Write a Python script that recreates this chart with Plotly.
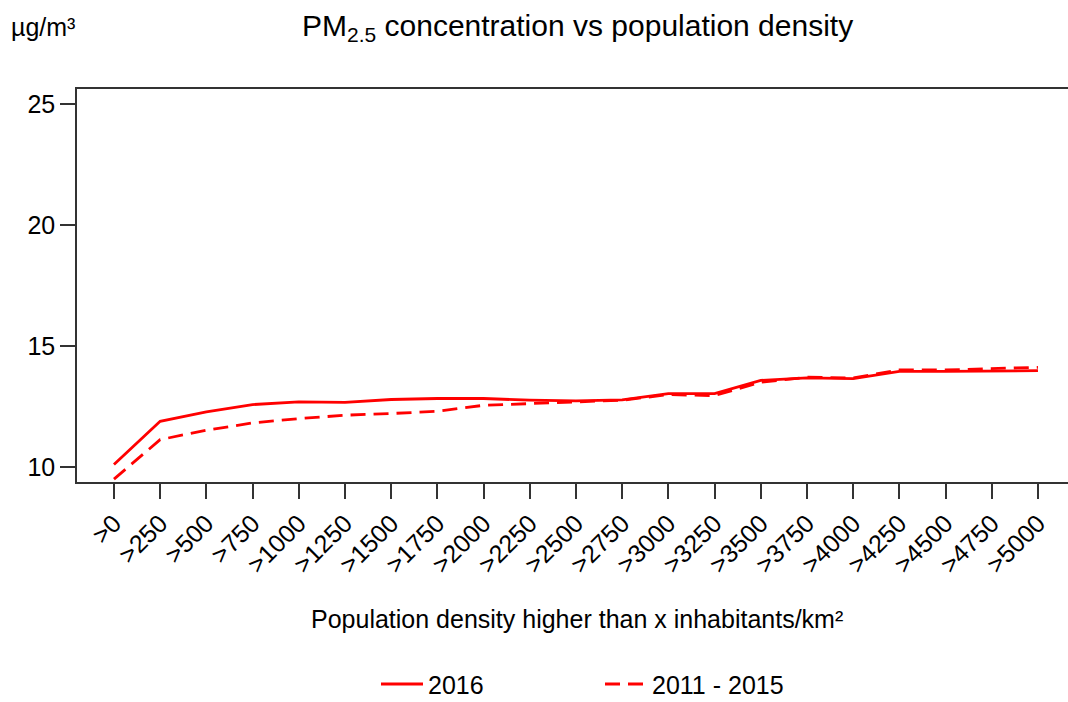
import plotly.graph_objects as go

categories = [">0", ">250", ">500", ">750", ">1000", ">1250", ">1500", ">1750", ">2000",
              ">2250", ">2500", ">2750", ">3000", ">3250", ">3500", ">3750", ">4000",
              ">4250", ">4500", ">4750", ">5000"]
pm_2016 = [10.10, 11.89, 12.28, 12.58, 12.69, 12.67, 12.79, 12.83, 12.83, 12.76, 12.73,
           12.77, 13.03, 13.03, 13.58, 13.68, 13.65, 13.95, 13.95, 13.97, 13.98]
pm_2011_2015 = [9.50, 11.13, 11.52, 11.82, 12.00, 12.14, 12.21, 12.30, 12.55, 12.62, 12.67,
                12.76, 12.99, 12.95, 13.50, 13.71, 13.68, 14.01, 14.01, 14.05, 14.12]
y_ticks = [10, 15, 20, 25]

idx = list(range(len(categories)))
RED = "#FF0000"
FONT = "Liberation Sans, Arial, sans-serif"
TXT = 25

PL, PT, PB = 77, 89, 482.5
PW, PH = 1068 - PL, PB - PT


def py(pix):
    return (PB - pix) / PH


def px(pix):
    return (pix - PL) / PW


fig = go.Figure()
fig.add_trace(go.Scatter(x=idx, y=pm_2016, mode="lines", name="2016",
                         line=dict(color=RED, width=2.8)))
fig.add_trace(go.Scatter(x=idx, y=pm_2011_2015, mode="lines", name="2011 - 2015",
                         line=dict(color=RED, width=2.8, dash="15px,8px")))

fig.update_layout(
    width=1068, height=702,
    margin=dict(l=PL, r=0, t=PT, b=702 - PB, autoexpand=False),
    paper_bgcolor="white", plot_bgcolor="white",
    font=dict(family=FONT, color="black", size=TXT),
    showlegend=True,
    legend=dict(orientation="h", x=px(600), xanchor="center", y=py(685), yanchor="middle",
                font=dict(size=TXT, family=FONT), entrywidth=167, itemwidth=42,
                traceorder="normal"),
)
fig.update_xaxes(
    range=[-0.80, 20.65], tickmode="array", tickvals=idx, ticktext=categories,
    tickangle=-45, ticks="outside", ticklen=15, tickwidth=1.5, tickcolor="#333",
    showline=True, linecolor="#333", linewidth=1.5, mirror=True, automargin=False,
    showgrid=False, zeroline=False, tickfont=dict(size=TXT, family=FONT, color="black"),
)
fig.update_yaxes(
    range=[9.38, 25.62], tickmode="array", tickvals=y_ticks,
    ticks="outside", ticklen=15, tickwidth=1.5, tickcolor="#333",
    showline=True, linecolor="#333", linewidth=1.5, mirror=False, automargin=False,
    showgrid=False, zeroline=False, tickfont=dict(size=TXT, family=FONT, color="black"),
)

fig.add_annotation(text="PM<sub>2.5</sub> concentration vs population density",
                   xref="paper", yref="paper", x=px(577), y=py(27),
                   xanchor="center", yanchor="middle", showarrow=False,
                   font=dict(size=30, family=FONT, color="black"))
fig.add_annotation(text="µg/m³", xref="paper", yref="paper",
                   x=px(9), y=py(27),
                   xanchor="left", yanchor="middle", showarrow=False,
                   font=dict(size=TXT, family=FONT, color="black"))
fig.add_annotation(text="Population density higher than x inhabitants/km²",
                   xref="paper", yref="paper", x=px(577), y=py(620),
                   xanchor="center", yanchor="middle", showarrow=False,
                   font=dict(size=TXT, family=FONT, color="black"))

fig.write_html("out.html", config={"displayModeBar": False},
               post_script="document.body.style.margin='0';document.body.style.overflow='hidden';")
